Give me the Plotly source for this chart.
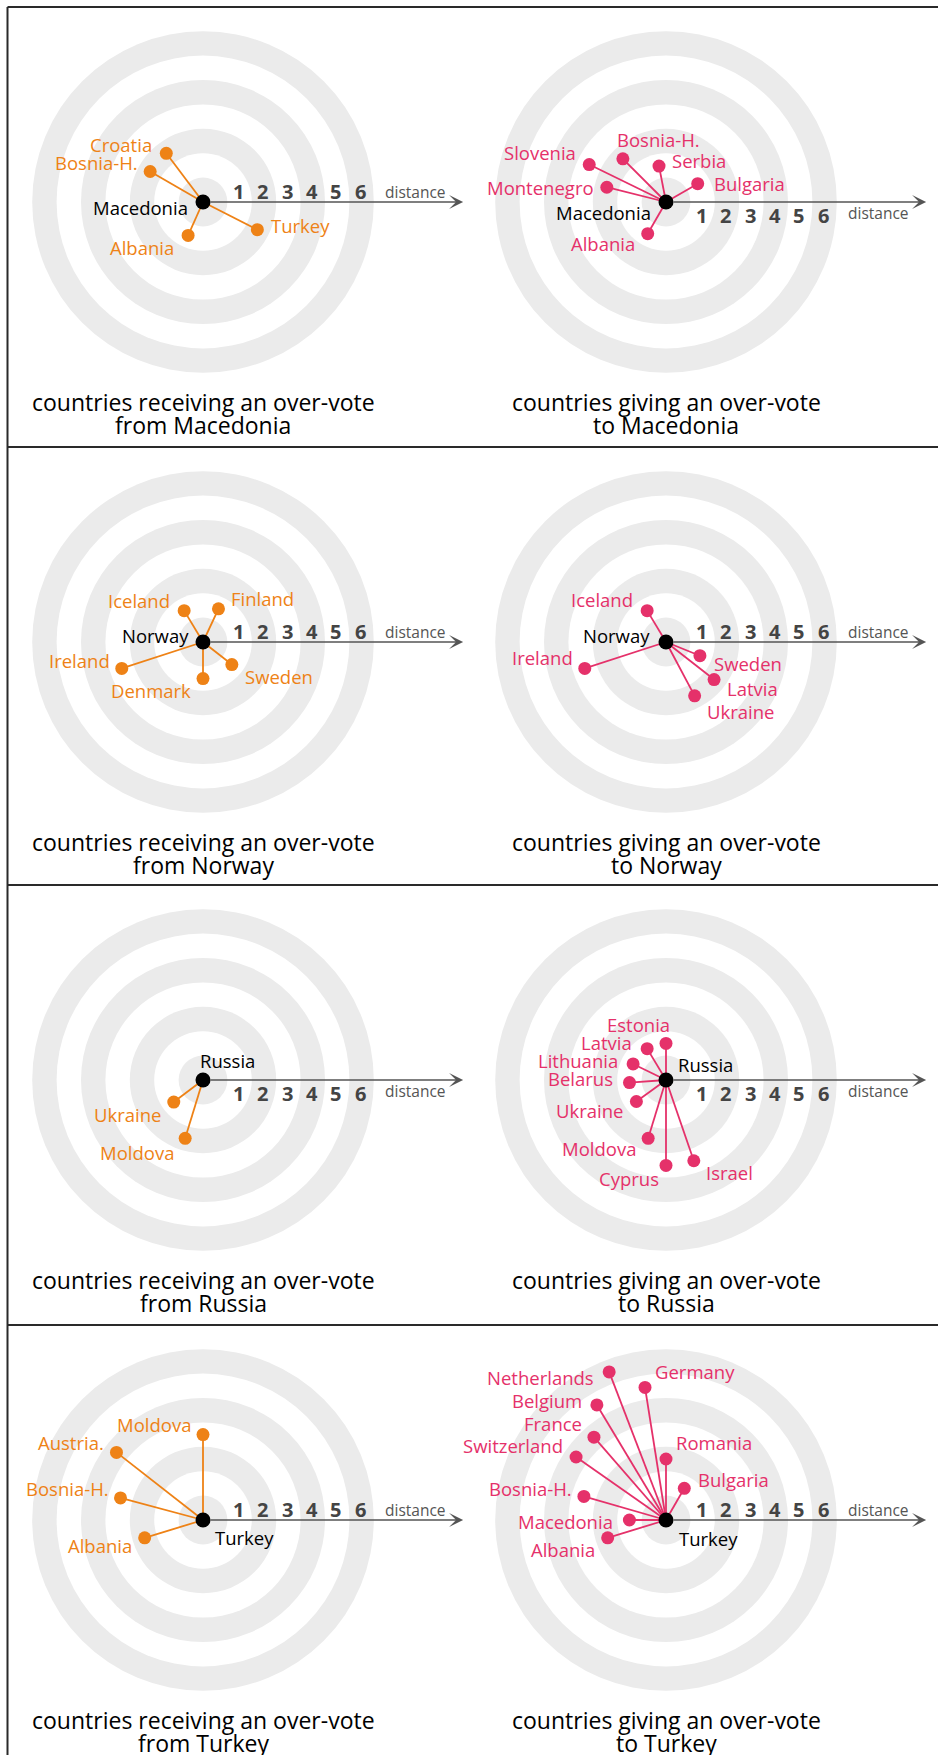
import math

import plotly.graph_objects as go

# ---------------------------------------------------------------------------
# data: countries exchanging an over-vote and their distance band (1..6)
# ---------------------------------------------------------------------------
MK_FROM_NAMES = ["Croatia", "Bosnia-H.", "Turkey", "Albania"]
MK_FROM_DIST = [2, 2, 2, 1]

MK_TO_NAMES = ["Slovenia", "Bosnia-H.", "Serbia", "Bulgaria", "Montenegro", "Albania"]
MK_TO_DIST = [3, 2, 1, 1, 2, 1]

NO_FROM_NAMES = ["Iceland", "Finland", "Ireland", "Denmark", "Sweden"]
NO_FROM_DIST = [1, 1, 3, 1, 1]

NO_TO_NAMES = ["Iceland", "Ireland", "Sweden", "Latvia", "Ukraine"]
NO_TO_DIST = [1, 3, 1, 2, 2]

RU_FROM_NAMES = ["Ukraine", "Moldova"]
RU_FROM_DIST = [1, 2]

RU_TO_NAMES = ["Estonia", "Latvia", "Lithuania", "Belarus", "Ukraine", "Moldova", "Cyprus", "Israel"]
RU_TO_DIST = [1, 1, 1, 1, 1, 2, 3, 3]

TR_FROM_NAMES = ["Moldova", "Austria.", "Bosnia-H.", "Albania"]
TR_FROM_DIST = [3, 4, 3, 2]

TR_TO_NAMES = ["Netherlands", "Germany", "Belgium", "France", "Switzerland",
               "Romania", "Bulgaria", "Bosnia-H.", "Macedonia", "Albania"]
TR_TO_DIST = [6, 5, 5, 4, 4, 2, 1, 3, 1, 2]

DISTANCE_TICKS = ["1", "2", "3", "4", "5", "6"]

# ---------------------------------------------------------------------------
# layout: spoke direction (degrees) and label placement (anchor, dx px, dy px)
# ---------------------------------------------------------------------------
MK_FROM_ANGLE = [127, 150, -27, -114]
MK_FROM_LABEL = [("right", -12, 9), ("right", -10, 9), ("left", 12, 4), ("right", -12, -12)]

MK_TO_ANGLE = [154, 135, 101, 30, 166, -120]
MK_TO_LABEL = [("right", -11, 12), ("left", -8, 19), ("left", 11, 6),
               ("left", 14, 0), ("right", -11, 0), ("right", -11, -10)]

NO_FROM_ANGLE = [121, 65, 198, -90, -38]
NO_FROM_LABEL = [("right", -12, 10), ("left", 11, 10), ("right", -10, 8),
                 ("right", -10, -12), ("left", 11, -12)]

NO_TO_ANGLE = [121, 198, -22, -38, -62]
NO_TO_LABEL = [("right", -12, 11), ("right", -10, 11), ("left", 12, -8),
               ("left", 11, -9), ("left", 10, -16)]

RU_FROM_ANGLE = [-143, -107]
RU_FROM_LABEL = [("right", -11, -12), ("right", -9, -14)]

RU_TO_ANGLE = [90, 121, 154, 184, -144, -107, -90, -71]
RU_TO_LABEL = [("right", 6, 19), ("right", -13, 6), ("right", -13, 3), ("right", -14, 4),
               ("right", -11, -9), ("right", -10, -10), ("right", -5, -13), ("left", 10, -12)]

TR_FROM_ANGLE = [90, 142, 165, 197]
TR_FROM_LABEL = [("right", -10, 10), ("right", -10, 10), ("right", -10, 9), ("right", -11, -8)]

TR_TO_ANGLE = [111, 99, 121, 131, 145, 90, 60, 164, 180, 197]
TR_TO_LABEL = [("right", -13, -6), ("left", 8, 16), ("right", -13, 4), ("right", -10, 14),
               ("right", -11, 12), ("left", 8, 17), ("left", 12, 9), ("right", -10, 8),
               ("right", -14, -1), ("right", -11, -12)]

ORANGE = "#ee8216"
PINK = "#e5316a"
RING = "#ebebeb"
AXIS = "#555555"
FONT = "Open Sans"

panels = [
    ("Macedonia", MK_FROM_NAMES, MK_FROM_DIST, MK_FROM_ANGLE, MK_FROM_LABEL, ORANGE,
     ("right", -13, -5), 1, "countries receiving an over-vote", "from Macedonia"),
    ("Macedonia", MK_TO_NAMES, MK_TO_DIST, MK_TO_ANGLE, MK_TO_LABEL, PINK,
     ("right", -13, -10), -1, "countries giving an over-vote", "to Macedonia"),
    ("Norway", NO_FROM_NAMES, NO_FROM_DIST, NO_FROM_ANGLE, NO_FROM_LABEL, ORANGE,
     ("right", -12, 7), 1, "countries receiving an over-vote", "from Norway"),
    ("Norway", NO_TO_NAMES, NO_TO_DIST, NO_TO_ANGLE, NO_TO_LABEL, PINK,
     ("right", -14, 7), 1, "countries giving an over-vote", "to Norway"),
    ("Russia", RU_FROM_NAMES, RU_FROM_DIST, RU_FROM_ANGLE, RU_FROM_LABEL, ORANGE,
     ("left", -5, 20), -1, "countries receiving an over-vote", "from Russia"),
    ("Russia", RU_TO_NAMES, RU_TO_DIST, RU_TO_ANGLE, RU_TO_LABEL, PINK,
     ("left", 10, 16), -1, "countries giving an over-vote", "to Russia"),
    ("Turkey", TR_FROM_NAMES, TR_FROM_DIST, TR_FROM_ANGLE, TR_FROM_LABEL, ORANGE,
     ("left", 10, -17), 1, "countries receiving an over-vote", "from Turkey"),
    ("Turkey", TR_TO_NAMES, TR_TO_DIST, TR_TO_ANGLE, TR_TO_LABEL, PINK,
     ("left", 11, -18), 1, "countries giving an over-vote", "to Turkey"),
]

W, H = 938, 1755
U = 24.4  # px per distance unit
COL_EDGES = [(0, 469), (469, 938)]
CENTER_X = [203, 666]
ROW_TOP = [7, 447, 885, 1325]
ROW_BOTTOM = [447, 885, 1325, 1755]
CENTER_Y = [202, 642, 1080, 1520]

fig = go.Figure()
axes = {}
shapes = []
annotations = []

for i, (hub, names, dists, angles, labels, color, hub_label, side, title1, title2) in enumerate(panels):
    row, col = divmod(i, 2)
    n = "" if i == 0 else str(i + 1)
    xref, yref = "x" + n, "y" + n
    x0, x1 = COL_EDGES[col]
    cx, cy = CENTER_X[col], CENTER_Y[row]
    y0, y1 = ROW_TOP[row], ROW_BOTTOM[row]
    axes["xaxis" + n] = dict(
        domain=[x0 / W, x1 / W], range=[(x0 - cx) / U, (x1 - cx) / U],
        visible=False, fixedrange=True, anchor=yref,
    )
    axes["yaxis" + n] = dict(
        domain=[1 - y1 / H, 1 - y0 / H], range=[(cy - y1) / U, (cy - y0) / U],
        visible=False, fixedrange=True, anchor=xref,
    )

    # target rings
    for k in range(7, 0, -1):
        shapes.append(dict(
            type="circle", xref=xref, yref=yref, x0=-k, x1=k, y0=-k, y1=k,
            fillcolor=RING if k % 2 else "white", line={"width": 0}, layer="below",
        ))

    px, py = [], []
    for d, a in zip(dists, angles):
        r = d + 0.5
        px.append(r * math.cos(math.radians(a)))
        py.append(r * math.sin(math.radians(a)))

    lx, ly = [], []
    for x, y in zip(px, py):
        lx += [0, x, None]
        ly += [0, y, None]
    fig.add_trace(go.Scatter(
        x=lx, y=ly, xaxis=xref, yaxis=yref, mode="lines",
        line={"color": color, "width": 1.8}, hoverinfo="skip", showlegend=False,
    ))
    fig.add_trace(go.Scatter(
        x=px, y=py, xaxis=xref, yaxis=yref, mode="markers", text=names,
        marker={"color": color, "size": 13}, hovertemplate="%{text}<extra></extra>",
        showlegend=False,
    ))
    fig.add_trace(go.Scatter(
        x=[0], y=[0], xaxis=xref, yaxis=yref, mode="markers",
        marker={"color": "black", "size": 15}, hoverinfo="skip", showlegend=False,
    ))

    for name, x, y, (anchor, dx, dy) in zip(names, px, py, labels):
        annotations.append(dict(
            x=x, y=y, xref=xref, yref=yref, text=name, showarrow=False,
            xanchor=anchor, yanchor="middle", xshift=dx, yshift=dy,
            font={"family": FONT, "size": 18.5, "color": color},
        ))
    anchor, dx, dy = hub_label
    annotations.append(dict(
        x=0, y=0, xref=xref, yref=yref, text=hub, showarrow=False,
        xanchor=anchor, yanchor="middle", xshift=dx, yshift=dy,
        font={"family": FONT, "size": 18.5, "color": "black"},
    ))

    # distance axis with arrow
    annotations.append(dict(
        x=10.66, y=0, ax=0, ay=0, xref=xref, yref=yref, axref=xref, ayref=yref,
        text="", showarrow=True, arrowhead=3, arrowsize=1.8, arrowwidth=1.3,
        arrowcolor=AXIS, startstandoff=6,
    ))
    for k, tick in enumerate(DISTANCE_TICKS, start=1):
        annotations.append(dict(
            x=k + 0.45, y=0, xref=xref, yref=yref, text=f"<b>{tick}</b>", showarrow=False,
            xanchor="center", yanchor="middle", yshift=11 if side > 0 else -13,
            font={"family": FONT, "size": 20, "color": "#444444"},
        ))
    annotations.append(dict(
        x=8.7, y=0, xref=xref, yref=yref, text="distance", showarrow=False,
        xanchor="center", yanchor="middle", yshift=10 if side > 0 else -11,
        font={"family": FONT, "size": 15.5, "color": AXIS},
    ))

    for text, shift in ((title1, -200), (title2, -222.5)):
        annotations.append(dict(
            x=0, y=0, xref=xref, yref=yref, text=text, showarrow=False,
            xanchor="center", yanchor="middle", yshift=shift,
            font={"family": FONT, "size": 23, "color": "black"},
        ))

# panel frame
FRAME = {"color": "#2a2a2a", "width": 2}
shapes.append(dict(type="line", xref="paper", yref="paper",
                   x0=7.5 / W, x1=7.5 / W, y0=1 - 7 / H, y1=0, line=FRAME))
for top in ROW_TOP:
    shapes.append(dict(type="line", xref="paper", yref="paper",
                       x0=7.5 / W, x1=1, y0=1 - top / H, y1=1 - top / H, line=FRAME))

fig.update_layout(
    width=W,
    height=H,
    margin={"l": 0, "r": 0, "t": 0, "b": 0},
    paper_bgcolor="white",
    plot_bgcolor="rgba(0,0,0,0)",
    showlegend=False,
    shapes=shapes,
    annotations=annotations,
    **axes,
)
fig.write_html(
    "out.html",
    config={"displayModeBar": False},
    post_script="document.body.style.margin='0';document.body.style.overflow='hidden';",
)
